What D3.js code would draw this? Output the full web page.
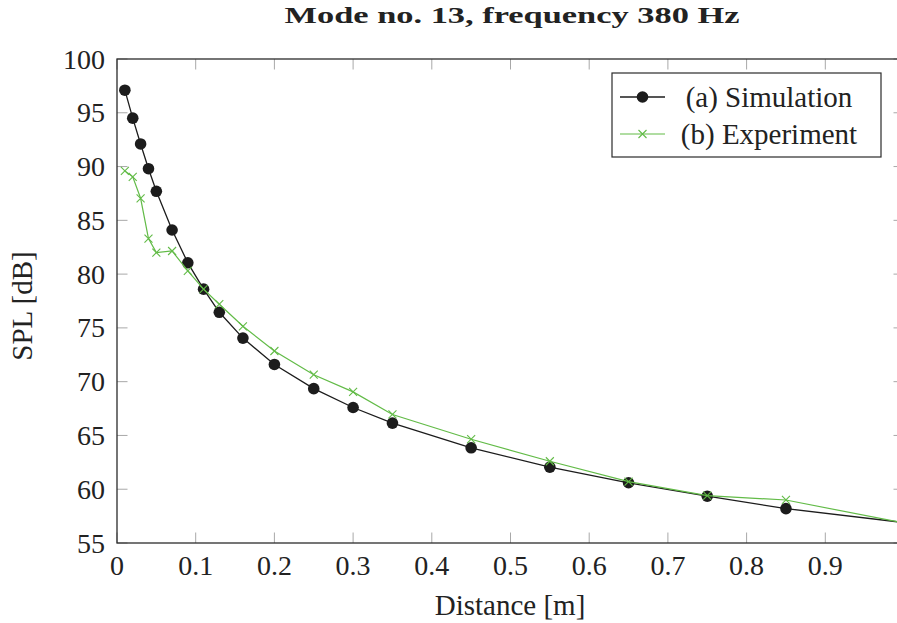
<!DOCTYPE html>
<html>
<head>
<meta charset="utf-8">
<script src="https://cdn.jsdelivr.net/npm/d3@7"></script>
<style>
  body { margin: 0; background: #fff; }
  svg { display: block; font-family: "Liberation Serif", "DejaVu Serif", serif; }
</style>
</head>
<body>
<svg id="chart" width="897" height="623"></svg>
<script>
// Distance [m]
const distSim = [0.01, 0.02, 0.03, 0.04, 0.05, 0.07, 0.09, 0.11, 0.13, 0.16, 0.2, 0.25, 0.3, 0.35, 0.45, 0.55, 0.65, 0.75, 0.85, 1.0];
const splSim  = [97.1, 94.5, 92.1, 89.8, 87.7, 84.1, 81.05, 78.6, 76.45, 74.05, 71.6, 69.35, 67.6, 66.15, 63.85, 62.05, 60.6, 59.35, 58.2, 56.9];

const distExp = [0.01, 0.02, 0.03, 0.04, 0.05, 0.07, 0.09, 0.11, 0.13, 0.16, 0.2, 0.25, 0.3, 0.35, 0.45, 0.55, 0.65, 0.75, 0.85, 1.0];
const splExp  = [89.6, 89.05, 87.05, 83.3, 82.0, 82.15, 80.3, 78.6, 77.2, 75.15, 72.85, 70.65, 69.05, 66.95, 64.65, 62.6, 60.7, 59.4, 59.0, 56.85];

const xTicks = [0, 0.1, 0.2, 0.3, 0.4, 0.5, 0.6, 0.7, 0.8, 0.9];
const yTicks = [55, 60, 65, 70, 75, 80, 85, 90, 95, 100];

const seriesNames = ["(a) Simulation", "(b) Experiment"];

const svg = d3.select("#chart");
const margin = { top: 59, left: 117 };
const innerW = 787;   // plot reaches x = 1.0, right edge falls just outside the picture
const innerH = 484;

const g = svg.append("g").attr("transform", `translate(${margin.left},${margin.top})`);

const x = d3.scaleLinear().domain([0, 1]).range([0, innerW]);
const y = d3.scaleLinear().domain([55, 100]).range([innerH, 0]);

const BLACK = "#1c1c1c";
const GREEN = "#62bb47";
const TICK = "#a8a8a8";
const FRAME = "#2b2b2b";

// --- ticks (inside, on all four sides) ---
const tickLen = 10.5;
xTicks.forEach(t => {
  g.append("line").attr("x1", x(t)).attr("x2", x(t)).attr("y1", innerH).attr("y2", innerH - tickLen)
    .attr("stroke", TICK).attr("stroke-width", 1);
  g.append("line").attr("x1", x(t)).attr("x2", x(t)).attr("y1", 0).attr("y2", tickLen)
    .attr("stroke", TICK).attr("stroke-width", 1);
});
yTicks.forEach(t => {
  g.append("line").attr("x1", 0).attr("x2", tickLen).attr("y1", y(t)).attr("y2", y(t))
    .attr("stroke", TICK).attr("stroke-width", 1);
  g.append("line").attr("x1", innerW).attr("x2", innerW - tickLen).attr("y1", y(t)).attr("y2", y(t))
    .attr("stroke", TICK).attr("stroke-width", 1);
});

// --- frame ---
g.append("rect")
  .attr("x", 0).attr("y", 0)
  .attr("width", innerW).attr("height", innerH)
  .attr("fill", "none")
  .attr("stroke", FRAME)
  .attr("stroke-width", 1.3);

// --- tick labels ---
g.selectAll(".xlab")
  .data(xTicks)
  .enter()
  .append("text")
  .attr("x", d => x(d))
  .attr("y", innerH + 32)
  .attr("text-anchor", "middle")
  .style("font-size", "28px")
  .attr("fill", "#222")
  .text(d => d3.format("")(d));

g.selectAll(".ylab")
  .data(yTicks)
  .enter()
  .append("text")
  .attr("x", -12)
  .attr("y", d => y(d))
  .attr("dy", "0.34em")
  .attr("text-anchor", "end")
  .style("font-size", "28px")
  .attr("fill", "#222")
  .text(d => d);

// --- lines + markers ---
const simData = distSim.map((d, i) => ({ x: d, y: splSim[i] }));
const expData = distExp.map((d, i) => ({ x: d, y: splExp[i] }));

const line = d3.line().x(d => x(d.x)).y(d => y(d.y));

g.append("path")
  .datum(simData)
  .attr("d", line)
  .attr("fill", "none")
  .attr("stroke", BLACK)
  .attr("stroke-width", 1.3);

g.selectAll(".sim")
  .data(simData)
  .enter()
  .append("circle")
  .attr("cx", d => x(d.x))
  .attr("cy", d => y(d.y))
  .attr("r", 5.8)
  .attr("fill", BLACK);

g.append("path")
  .datum(expData)
  .attr("d", line)
  .attr("fill", "none")
  .attr("stroke", GREEN)
  .attr("stroke-width", 1.2);

const cross = 4;
const crossPath = `M${-cross},${-cross}L${cross},${cross}M${-cross},${cross}L${cross},${-cross}`;
g.selectAll(".exp")
  .data(expData)
  .enter()
  .append("path")
  .attr("transform", d => `translate(${x(d.x)},${y(d.y)})`)
  .attr("d", crossPath)
  .attr("stroke", GREEN)
  .attr("stroke-width", 1.1)
  .attr("fill", "none");

// --- legend ---
const lg = g.append("g").attr("transform", `translate(${innerW - 292},14)`);
lg.append("rect")
  .attr("x", 0).attr("y", 0)
  .attr("width", 269).attr("height", 84)
  .attr("fill", "#fff")
  .attr("stroke", FRAME)
  .attr("stroke-width", 1.2);

const rows = [
  { name: seriesNames[0], color: BLACK, mark: "circle", cy: 24 },
  { name: seriesNames[1], color: GREEN, mark: "cross", cy: 61 }
];
rows.forEach(r => {
  lg.append("line")
    .attr("x1", 8).attr("x2", 53)
    .attr("y1", r.cy).attr("y2", r.cy)
    .attr("stroke", r.color)
    .attr("stroke-width", r.mark === "circle" ? 1.3 : 1.2);
  if (r.mark === "circle") {
    lg.append("circle").attr("cx", 30.5).attr("cy", r.cy).attr("r", 5.8).attr("fill", r.color);
  } else {
    lg.append("path")
      .attr("transform", `translate(30.5,${r.cy})`)
      .attr("d", crossPath)
      .attr("stroke", r.color)
      .attr("stroke-width", 1.1)
      .attr("fill", "none");
  }
  lg.append("text")
    .attr("x", 157)
    .attr("y", r.cy + 9.5)
    .attr("text-anchor", "middle")
    .style("font-size", "29px")
    .attr("fill", "#222")
    .text(r.name);
});

// --- title ---
svg.append("text")
  .attr("x", 512)
  .attr("y", 23)
  .attr("text-anchor", "middle")
  .attr("textLength", 455)
  .attr("lengthAdjust", "spacingAndGlyphs")
  .style("font-size", "23px")
  .style("font-weight", "bold")
  .attr("fill", "#222")
  .text("Mode no. 13, frequency 380 Hz");

// --- axis labels ---
svg.append("text")
  .attr("x", 510)
  .attr("y", 615)
  .attr("text-anchor", "middle")
  .style("font-size", "29px")
  .attr("fill", "#222")
  .text("Distance [m]");

svg.append("text")
  .attr("transform", "rotate(-90)")
  .attr("x", -306)
  .attr("y", 32)
  .attr("text-anchor", "middle")
  .style("font-size", "29px")
  .attr("fill", "#222")
  .text("SPL [dB]");
</script>
</body>
</html>
